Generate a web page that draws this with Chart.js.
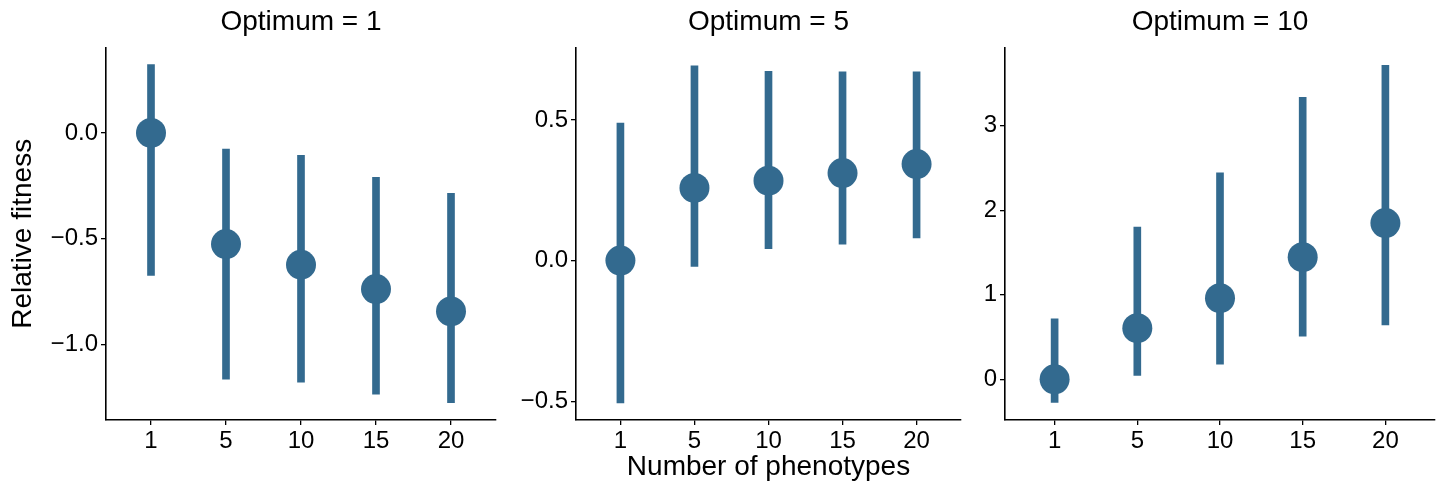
<!DOCTYPE html>
<html lang="en">
<head>
    <meta charset="UTF-8">
    <title>Relative fitness by number of phenotypes</title>
    <script src="https://cdn.jsdelivr.net/npm/chart.js"></script>
    <style>
        body { margin: 0; background: #fff; width: 1441px; height: 486px; overflow: hidden; }
        .panel { position: absolute; top: 0; height: 486px; }
    </style>
</head>
<body>
    <div class="panel" style="left:0;width:500px"><canvas id="p1"></canvas></div>
    <div class="panel" style="left:500px;width:465px"><canvas id="p2"></canvas></div>
    <div class="panel" style="left:965px;width:476px"><canvas id="p3"></canvas></div>

    <script>
        // categories (x)
        const phenotypes = ['1', '5', '10', '15', '20'];
        const panelTitles = ['Optimum = 1', 'Optimum = 5', 'Optimum = 10'];

        // Optimum = 1
        const mean1 = [0, -0.526, -0.624, -0.739, -0.845];
        const low1  = [-0.675, -1.166, -1.18, -1.237, -1.277];
        const high1 = [0.324, -0.076, -0.106, -0.21, -0.286];
        // Optimum = 5
        const mean5 = [0, 0.258, 0.284, 0.311, 0.343];
        const low5  = [-0.506, -0.021, 0.042, 0.058, 0.080];
        const high5 = [0.489, 0.692, 0.673, 0.671, 0.671];
        // Optimum = 10
        const mean10 = [0, 0.604, 0.96, 1.445, 1.848];
        const low10  = [-0.273, 0.047, 0.178, 0.509, 0.643];
        const high10 = [0.714, 1.80, 2.444, 3.336, 3.715];

        // y ticks and ranges
        const yTicks1 = [-1.0, -0.5, 0.0];
        const yTicks5 = [-0.5, 0.0, 0.5];
        const yTicks10 = [0, 1, 2, 3];
        const yRange1 = [-1.359, 0.404];
        const yRange5 = [-0.567, 0.757];
        const yRange10 = [-0.482, 3.925];

        const col = '#336a8f';
        const fontFam = '"Liberation Sans", Arial, sans-serif';

        function fmt(v, dec) {
            const s = Math.abs(v).toFixed(dec);
            return v < 0 ? '\u2212' + s : s;
        }

        function makePanel(id, title, mean, low, high, yTicks, yRange, dec, yAxisW, rightPad, opts) {
            new Chart(document.getElementById(id), {
                type: 'bar',
                data: {
                    datasets: [
                        {
                            type: 'scatter',
                            data: mean.map((v, i) => ({ x: i + 1, y: v })),
                            pointRadius: 15,
                            pointBackgroundColor: col,
                            pointBorderWidth: 0,
                            order: 0
                        },
                        {
                            type: 'bar',
                            data: low.map((v, i) => ({ x: i + 1, y: [v, high[i]] })),
                            backgroundColor: col,
                            borderWidth: 0,
                            barThickness: 7,
                            order: 1
                        }
                    ]
                },
                options: {
                    responsive: true,
                    maintainAspectRatio: false,
                    animation: false,
                    layout: { autoPadding: false, padding: { left: 0, right: rightPad, top: 0, bottom: 0 } },
                    plugins: {
                        legend: { display: false },
                        tooltip: { enabled: false },
                        title: {
                            display: true,
                            text: title,
                            fullSize: false,
                            color: '#000',
                            font: { family: fontFam, size: 28, weight: 'normal' },
                            padding: { top: 5, bottom: 9 }
                        }
                    },
                    scales: {
                        x: {
                            type: 'linear',
                            min: 0.4,
                            max: 5.6,
                            offset: false,
                            afterBuildTicks: s => { s.ticks = phenotypes.map((p, i) => ({ value: i + 1 })); },
                            afterFit: s => { s.height = 66; s.paddingLeft = 0; s.paddingRight = 0; },
                            ticks: {
                                callback: v => phenotypes[v - 1],
                                color: '#000',
                                font: { family: fontFam, size: 24 },
                                padding: 2,
                                maxRotation: 0
                            },
                            grid: { offset: false, drawOnChartArea: false, color: '#000', tickLength: 5, lineWidth: 1.3 },
                            border: { color: '#000', width: 1.6 },
                            title: opts.xTitle ? {
                                display: true,
                                text: opts.xTitle,
                                color: '#000',
                                font: { family: fontFam, size: 28 },
                                padding: { top: 0, bottom: 2 }
                            } : { display: false }
                        },
                        y: {
                            min: yRange[0],
                            max: yRange[1],
                            afterBuildTicks: s => { s.ticks = yTicks.map(v => ({ value: v })); },
                            afterFit: s => { s.width = yAxisW; s.paddingTop = 0; s.paddingBottom = 0; },
                            ticks: {
                                callback: v => fmt(v, dec),
                                color: '#000',
                                font: { family: fontFam, size: 24 },
                                padding: 3
                            },
                            grid: { drawOnChartArea: false, color: '#000', tickLength: 5, lineWidth: 1.3 },
                            border: { color: '#000', width: 1.6 },
                            title: opts.yTitle ? {
                                display: true,
                                text: opts.yTitle,
                                color: '#000',
                                font: { family: fontFam, size: 28 },
                                padding: { top: 6, bottom: 0 }
                            } : { display: false }
                        }
                    }
                }
            });
        }

        makePanel('p1', panelTitles[0], mean1, low1, high1, yTicks1, yRange1, 1, 106, 4, { yTitle: 'Relative fitness' });
        makePanel('p2', panelTitles[1], mean5, low5, high5, yTicks5, yRange5, 1, 76, 4, { xTitle: 'Number of phenotypes' });
        makePanel('p3', panelTitles[2], mean10, low10, high10, yTicks10, yRange10, 0, 40, 6, {});
    </script>
</body>
</html>
